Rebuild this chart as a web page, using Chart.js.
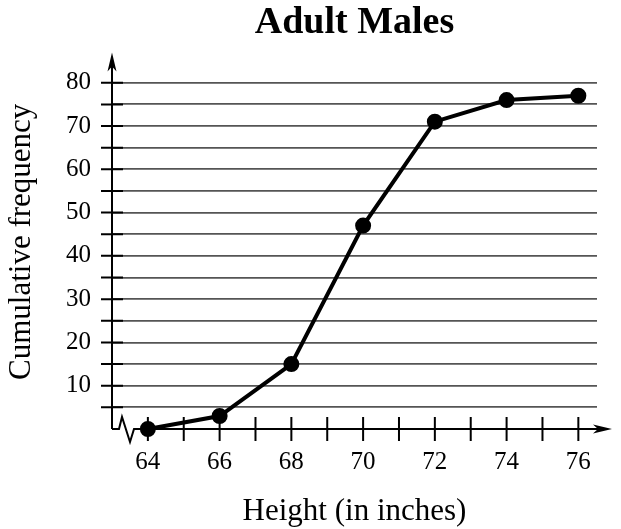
<!DOCTYPE html>
<html>
<head>
<meta charset="utf-8">
<script src="https://cdn.jsdelivr.net/npm/chart.js@4.4.1/dist/chart.umd.min.js"></script>
<style>
  html, body { margin: 0; padding: 0; background: #fff; }
  #wrap { width: 621px; height: 529px; }
</style>
</head>
<body>
<div id="wrap"><canvas id="ogive"></canvas></div>
<script>
var heights = [64, 66, 68, 70, 72, 74, 76];
var cumulativeFreq = [0, 3, 15, 47, 71, 76, 77];

// tick marks and labelled ticks
var xTickMarks = [64, 65, 66, 67, 68, 69, 70, 71, 72, 73, 74, 75, 76];
var xTickLabels = [64, 66, 68, 70, 72, 74, 76];
var yGridLines = [0, 5, 10, 15, 20, 25, 30, 35, 40, 45, 50, 55, 60, 65, 70, 75, 80];
var yTickLabels = [10, 20, 30, 40, 50, 60, 70, 80];

var serif = '"Liberation Serif", "Times New Roman", serif';

// draws the arrowed axes, the axis break and the little tick marks
var axesPlugin = {
  id: 'axes',
  beforeDatasetsDraw: function (chart) {
    var ctx = chart.ctx;
    var xs = chart.scales.x;
    var ys = chart.scales.y;
    var x0 = xs.left;
    var y0 = ys.getPixelForValue(0);
    var top = chart.chartArea.top;
    var right = xs.right;

    ctx.save();
    ctx.strokeStyle = '#000';
    ctx.fillStyle = '#000';
    ctx.lineWidth = 2;
    ctx.lineJoin = 'miter';

    // y axis + arrow
    ctx.beginPath();
    ctx.moveTo(x0, y0);
    ctx.lineTo(x0, top + 8);
    ctx.stroke();
    ctx.beginPath();
    ctx.moveTo(x0, top - 2);
    ctx.lineTo(x0 - 4.5, top + 17);
    ctx.lineTo(x0, top + 12);
    ctx.lineTo(x0 + 4.5, top + 17);
    ctx.closePath();
    ctx.fill();

    // x axis with the break symbol + arrow
    ctx.beginPath();
    ctx.moveTo(x0, y0);
    ctx.lineTo(x0 + 7, y0);
    ctx.lineTo(x0 + 10, y0 - 12);
    ctx.lineTo(x0 + 18, y0 + 13);
    ctx.lineTo(x0 + 22, y0);
    ctx.lineTo(right + 8, y0);
    ctx.stroke();
    ctx.beginPath();
    ctx.moveTo(right + 15, y0);
    ctx.lineTo(right - 4, y0 - 4.5);
    ctx.lineTo(right + 1, y0);
    ctx.lineTo(right - 4, y0 + 4.5);
    ctx.closePath();
    ctx.fill();

    // tick marks across the axes
    ctx.beginPath();
    yGridLines.forEach(function (v) {
      if (v === 0) return;
      var py = ys.getPixelForValue(v);
      ctx.moveTo(x0 - 11, py);
      ctx.lineTo(x0 + 11, py);
    });
    xTickMarks.forEach(function (v) {
      var px = xs.getPixelForValue(v);
      ctx.moveTo(px, y0 - 12);
      ctx.lineTo(px, y0 + 12);
    });
    ctx.stroke();
    ctx.restore();
  }
};

var chartContext = document.getElementById('ogive').getContext('2d');

new Chart(chartContext, {
  type: 'line',
  data: {
    datasets: [{
      label: 'Adult Males',
      data: heights.map(function (h, i) {
        return { x: h, y: cumulativeFreq[i] };
      }),
      borderColor: '#000',
      borderWidth: 4,
      pointRadius: 6,
      pointBackgroundColor: '#000',
      pointBorderColor: '#000',
      tension: 0,
      clip: false
    }]
  },
  options: {
    responsive: true,
    maintainAspectRatio: false,
    animation: false,
    layout: { padding: { left: 0, right: 24, top: 0, bottom: 0 } },
    plugins: {
      legend: { display: false },
      tooltip: { enabled: false },
      title: {
        display: true,
        text: 'Adult Males',
        fullSize: false,
        color: '#000',
        font: { family: serif, size: 38, weight: 'bold' },
        padding: { top: 0, bottom: 9 }
      }
    },
    scales: {
      x: {
        type: 'linear',
        min: 63,
        max: 76.52,
        afterBuildTicks: function (scale) {
          scale.ticks = xTickMarks.map(function (v) { return { value: v }; });
        },
        ticks: {
          autoSkip: false,
          maxRotation: 0,
          padding: 21,
          color: '#000',
          font: { family: serif, size: 25, lineHeight: 1 },
          callback: function (value) {
            return xTickLabels.indexOf(value) >= 0 ? String(value) : '';
          }
        },
        grid: { display: false, drawTicks: false },
        border: { display: false },
        title: {
          display: true,
          text: 'Height (in inches)',
          color: '#000',
          font: { family: serif, size: 31, lineHeight: 1 },
          padding: { top: 0, bottom: 2 }
        }
      },
      y: {
        type: 'linear',
        min: 0,
        max: 86.5,
        afterBuildTicks: function (scale) {
          scale.ticks = yGridLines.map(function (v) { return { value: v }; });
        },
        ticks: {
          autoSkip: false,
          padding: 21,
          color: '#000',
          font: { family: serif, size: 25, lineHeight: 1 },
          callback: function (value) {
            return yTickLabels.indexOf(value) >= 0 ? String(value) : '';
          }
        },
        grid: {
          drawTicks: false,
          lineWidth: 1.8,
          color: function (c) {
            return c.tick && c.tick.value === 0 ? 'rgba(0,0,0,0)' : '#555';
          }
        },
        border: { display: false },
        title: {
          display: true,
          text: 'Cumulative frequency',
          color: '#000',
          font: { family: serif, size: 31, lineHeight: 1 },
          padding: { top: 6, bottom: 8 }
        }
      }
    }
  },
  plugins: [axesPlugin]
});
</script>
</body>
</html>
